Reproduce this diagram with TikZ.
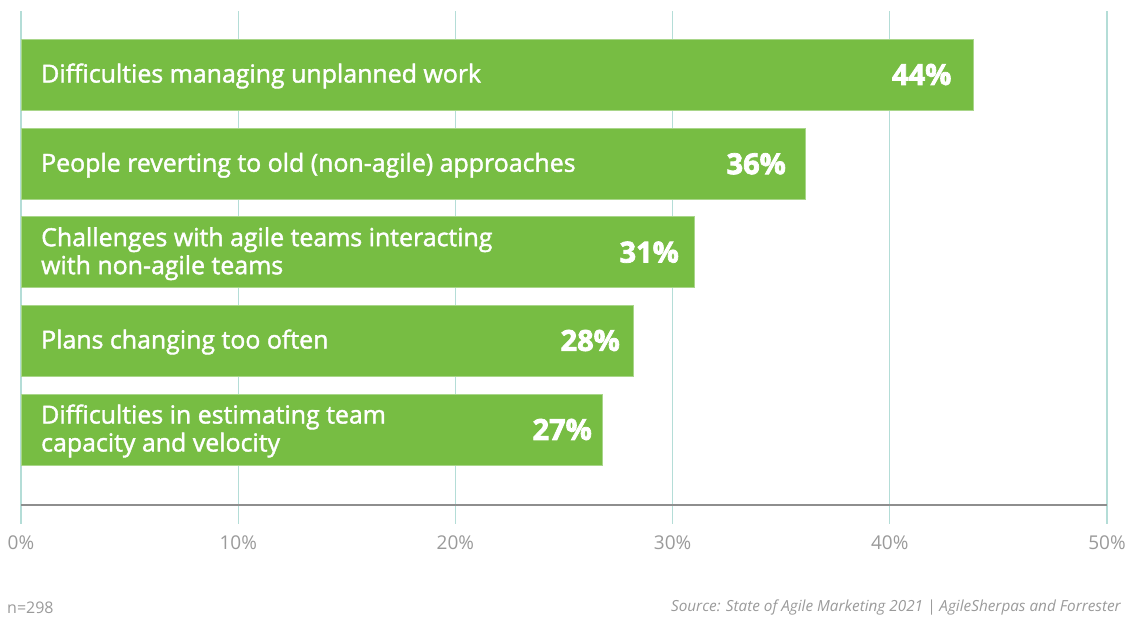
\documentclass[tikz,border=0pt]{standalone}
\usepackage{fontspec}
\setmainfont{Open Sans}
\newfontfamily\sbfont{Open Sans}[FakeBold=1.6]
\newfontfamily\xbfont{Open Sans}[BoldFeatures={FakeBold=2.6}]
\definecolor{bargreen}{HTML}{77BD43}
\definecolor{baredge}{HTML}{A9D68A}
\definecolor{gridteal}{HTML}{B4DDD7}
\definecolor{axisgray}{HTML}{8E8E8E}
\definecolor{txtgray}{HTML}{9A9A9A}
\tikzset{
  bar/.style={fill=bargreen, draw=baredge, line width=1pt},
  barlabel/.style={anchor=west, text=white, font=\sbfont\fontsize{24.9}{28}\selectfont, align=left, inner sep=0pt},
  pctlabel/.style={anchor=east, text=white, font=\xbfont\bfseries\fontsize{29}{32}\selectfont, inner sep=0pt},
  gridline/.style={draw=gridteal, line width=1.3pt},
  axisline/.style={draw=axisgray, line width=1.6pt},
  ticklabel/.style={text=txtgray, font=\fontsize{19}{22}\selectfont, inner sep=0pt},
  notelabel/.style={text=txtgray, font=\fontsize{16}{19}\selectfont, inner sep=0pt},
  srclabel/.style={text=txtgray, font=\itshape\fontsize{15.3}{18}\selectfont, inner sep=0pt}
}
\begin{document}
\begin{tikzpicture}[x=1pt,y=-1pt]
\useasboundingbox (0,0) rectangle (1146,616);
% grid
\foreach \i in {0,...,5} {
  \coordinate (gt\i) at ({21+217.2*\i},11);
  \coordinate (gb\i) at ({21+217.2*\i},524);
  \draw[gridline] (gt\i) -- (gb\i);
  \node[ticklabel] (tick\i) at ({21+217.2*\i},543) {\pgfmathparse{int(10*\i)}\pgfmathresult\%};
}
% axis
\coordinate (ax0) at (21,505);
\coordinate (ax1) at (1107,505);
\draw[axisline] (ax0) -- (ax1);
% bars
\foreach \v/\e/\p/\t/\lab [count=\k] in {
  44/973.5/951.5/39/{Difficulties managing unplanned work},
  36/805/786/128.3/{People reverting to old (non-agile) approaches},
  31/694.3/679/216.7/{Challenges with agile teams interacting\\with non-agile teams},
  28/633.3/620/305/{Plans changing too often},
  27/602.7/592/394/{Difficulties in estimating team\\capacity and velocity}} {
  \draw[bar] (21,\t) rectangle (\e,\t+71);
  \node[barlabel] (lab\k) at (41,\t+37) {\lab};
  \node[pctlabel] (pct\k) at (\p,\t+35.5) {\v\%};
}
\node[notelabel, anchor=west] (n) at (7,607.5) {n=298};
\node[srclabel, anchor=east] (src) at (1121,607.5) {Source: State of Agile Marketing 2021 | AgileSherpas and Forrester};
\end{tikzpicture}
\end{document}
